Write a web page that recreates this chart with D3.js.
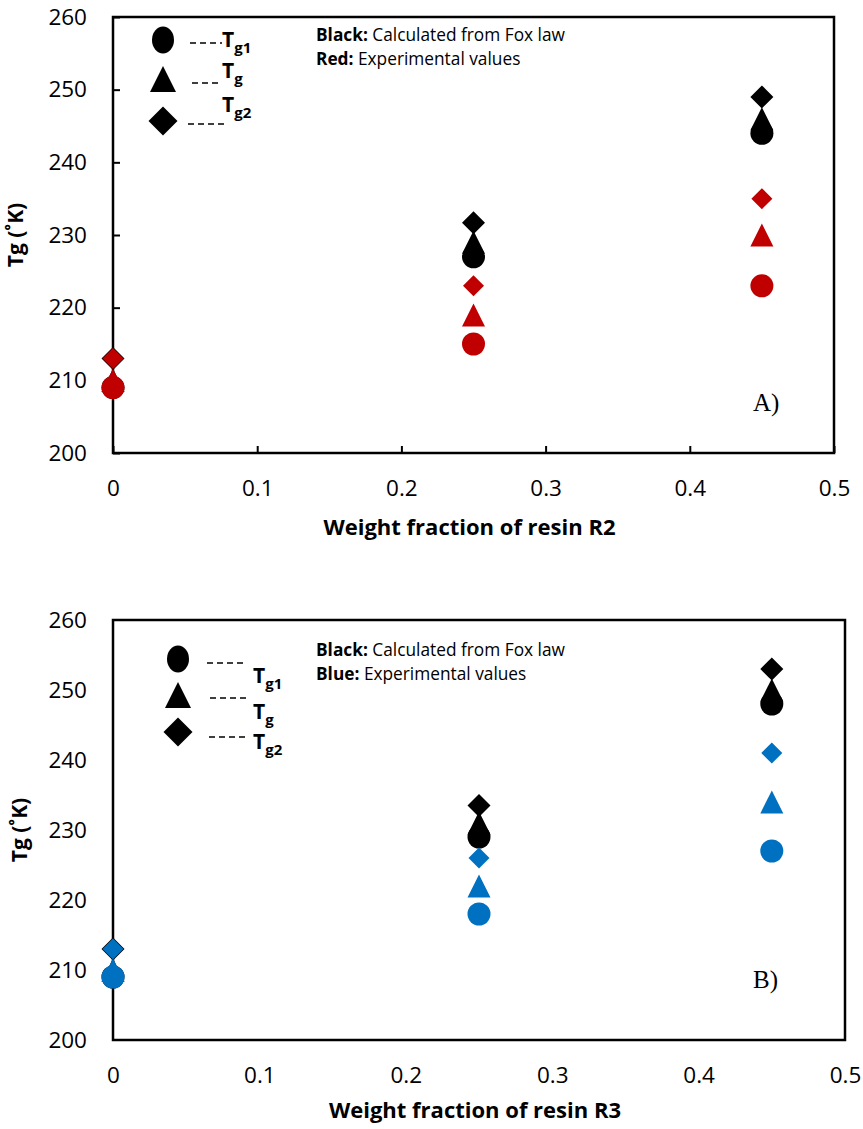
<!DOCTYPE html>
<html>
<head>
<meta charset="utf-8">
<script src="https://cdn.jsdelivr.net/npm/d3@7"></script>
<style>
  body { margin: 0; background: #fff; }
  svg { display: block; }
</style>
</head>
<body>
<svg id="chart" width="863" height="1129"></svg>
<script>
// ---- data ----
const weightFractions = [0, 0.25, 0.45];
const yTickValues = [200, 210, 220, 230, 240, 250, 260];
const xTickValues = [0, 0.1, 0.2, 0.3, 0.4, 0.5];
const seriesNames = ["Tg1", "Tg", "Tg2"];

// Resin R2: Fox law (black) and experimental (red)
const foxTg1R2 = [209, 227, 244];
const foxTgR2  = [210, 229, 246];
const foxTg2R2 = [213, 231.7, 249];
const expTg1R2 = [209, 215, 223];
const expTgR2  = [210, 219, 230];
const expTg2R2 = [213, 223, 235];

// Resin R3: Fox law (black) and experimental (blue)
const foxTg1R3 = [209, 229, 248];
const foxTgR3  = [210, 231, 250];
const foxTg2R3 = [213, 233.5, 253];
const expTg1R3 = [209, 218, 227];
const expTgR3  = [210, 222, 234];
const expTg2R3 = [213, 226, 241];

const FONT = "'Open Sans', 'Liberation Sans', sans-serif";
const svg = d3.select("#chart");

// marker shapes: size = (full width)^2
const shapeCircle = { draw(ctx, size) { const r = Math.sqrt(size) / 2; ctx.moveTo(r, 0); ctx.arc(0, 0, r, 0, 2 * Math.PI); } };
const shapeTriangle = { draw(ctx, size) { const r = Math.sqrt(size) / 2; ctx.moveTo(0, -r); ctx.lineTo(r, r); ctx.lineTo(-r, r); ctx.closePath(); } };
const shapeDiamond = { draw(ctx, size) { const r = Math.sqrt(size) / 2; ctx.moveTo(0, -r); ctx.lineTo(r, 0); ctx.lineTo(0, r); ctx.lineTo(-r, 0); ctx.closePath(); } };
const shapes = [shapeCircle, shapeTriangle, shapeDiamond];

function drawPanel(p) {
  const x = d3.scaleLinear().domain([0, 0.5]).range([p.left, p.right]);
  const y = d3.scaleLinear().domain([200, 260]).range([p.bottom, p.top]);
  const g = svg.append("g");

  // y axis
  const yAxis = d3.axisLeft(y).tickValues(yTickValues).tickSizeOuter(0)
    .tickSizeInner(p.ticks ? -7 : 0).tickPadding(26).tickFormat(d3.format("d"));
  const ya = g.append("g").attr("transform", `translate(${p.left},0)`).call(yAxis);
  ya.select(".domain").remove();
  ya.selectAll("line").attr("stroke", "#000").attr("stroke-width", 2);
  ya.selectAll("text").attr("font-family", FONT).attr("font-size", 22.5).attr("fill", "#000");

  // x axis
  const xAxis = d3.axisBottom(x).tickValues(xTickValues).tickSizeOuter(0)
    .tickSizeInner(p.ticks ? -7 : 0).tickPadding(27).tickFormat(d => d === 0 ? "0" : d3.format(".1f")(d));
  const xa = g.append("g").attr("transform", `translate(0,${p.bottom})`).call(xAxis);
  xa.select(".domain").remove();
  xa.selectAll("line").attr("stroke", "#000").attr("stroke-width", 2);
  xa.selectAll("text").attr("font-family", FONT).attr("font-size", 22.5).attr("fill", "#000");

  // plot frame
  g.append("rect").attr("x", p.left).attr("y", p.top)
    .attr("width", p.right - p.left).attr("height", p.bottom - p.top)
    .attr("fill", "none").attr("stroke", "#000").attr("stroke-width", 2.5);

  // axis titles
  g.append("text").attr("x", (p.left + p.right) / 2 - 4).attr("y", p.xTitleY)
    .attr("text-anchor", "middle").attr("font-family", FONT).attr("font-weight", "bold")
    .attr("font-size", 22).text(p.xTitle);
  g.append("text").attr("transform", `translate(${p.yTitleX},${(p.top + p.bottom) / 2}) rotate(-90)`)
    .attr("text-anchor", "middle").attr("font-family", FONT).attr("font-weight", "bold")
    .attr("font-size", 21).text("Tg (\u02DaK)");

  // markers: Fox law in black underneath, experimental on top
  const sizes = [23, 23, 23];
  p.fox.forEach((vals, i) => {
    g.selectAll(null).data(vals).join("path")
      .attr("transform", (d, j) => `translate(${x(weightFractions[j])},${y(d)})`)
      .attr("d", d3.symbol().type(shapes[i]).size(sizes[i] * sizes[i]))
      .attr("fill", "#000");
  });
  const expSizes = [23, 23, 21];
  p.exp.forEach((vals, i) => {
    g.selectAll(null).data(vals).join("path")
      .attr("transform", (d, j) => `translate(${x(weightFractions[j])},${y(d)})`)
      .attr("d", d3.symbol().type(shapes[i]).size(expSizes[i] * expSizes[i]))
      .attr("fill", p.color);
  });

  // legend of marker shapes
  p.legend.forEach((L, i) => {
    if (i === 0) {
      g.append("ellipse").attr("cx", L.mx).attr("cy", L.my).attr("rx", 11).attr("ry", 13.5).attr("fill", "#000");
    } else {
      g.append("path").attr("transform", `translate(${L.mx},${L.my})`)
        .attr("d", d3.symbol().type(shapes[i]).size(i === 1 ? 26 * 26 : 29 * 29)).attr("fill", "#000");
    }
    g.append("line").attr("x1", L.d1).attr("x2", L.d2).attr("y1", L.dy).attr("y2", L.dy)
      .attr("stroke", "#000").attr("stroke-width", 1.3).attr("stroke-dasharray", "6,4");
    const t = g.append("text").attr("x", L.tx).attr("y", L.ty).attr("font-family", FONT)
      .attr("font-weight", "bold").attr("font-size", 21);
    t.append("tspan").text("T");
    t.append("tspan").attr("font-size", 15).attr("dy", 6).text(seriesNames[i].slice(1));
  });

  // colour key note
  const n1 = g.append("text").attr("x", p.noteX).attr("y", p.noteY).attr("font-family", FONT).attr("font-size", 17.3);
  n1.append("tspan").attr("font-weight", "bold").text("Black:");
  n1.append("tspan").text(" Calculated from Fox law");
  const n2 = g.append("text").attr("x", p.noteX).attr("y", p.noteY + 24).attr("font-family", FONT).attr("font-size", 17.3);
  n2.append("tspan").attr("font-weight", "bold").text(p.colorName + ":");
  n2.append("tspan").text(" Experimental values");

  // panel tag
  g.append("text").attr("x", p.tagX).attr("y", p.tagY).attr("font-family", "'Liberation Serif', 'DejaVu Serif', serif")
    .attr("font-size", 25).text(p.tag);
}

drawPanel({
  left: 113, right: 834, top: 17, bottom: 453,
  ticks: true, xTitle: "Weight fraction of resin R2", xTitleY: 535, yTitleX: 23,
  fox: [foxTg1R2, foxTgR2, foxTg2R2], exp: [expTg1R2, expTgR2, expTg2R2],
  color: "#C00000", colorName: "Red",
  legend: [
    { mx: 163, my: 40, d1: 190, d2: 222, dy: 43, tx: 222, ty: 47 },
    { mx: 163, my: 79, d1: 192, d2: 222, dy: 83, tx: 222, ty: 78 },
    { mx: 163, my: 121, d1: 188, d2: 224, dy: 124, tx: 222, ty: 112 }
  ],
  noteX: 316, noteY: 41, tag: "A)", tagX: 753, tagY: 411
});

drawPanel({
  left: 113, right: 845, top: 620, bottom: 1040,
  ticks: false, xTitle: "Weight fraction of resin R3", xTitleY: 1118, yTitleX: 27,
  fox: [foxTg1R3, foxTgR3, foxTg2R3], exp: [expTg1R3, expTgR3, expTg2R3],
  color: "#0070C0", colorName: "Blue",
  legend: [
    { mx: 178, my: 659, d1: 207, d2: 243, dy: 663, tx: 253, ty: 683 },
    { mx: 178, my: 695, d1: 210, d2: 246, dy: 698, tx: 253, ty: 719 },
    { mx: 178, my: 732, d1: 209, d2: 245, dy: 737, tx: 253, ty: 749 }
  ],
  noteX: 316, noteY: 656, tag: "B)", tagX: 753, tagY: 988
});
</script>
</body>
</html>
